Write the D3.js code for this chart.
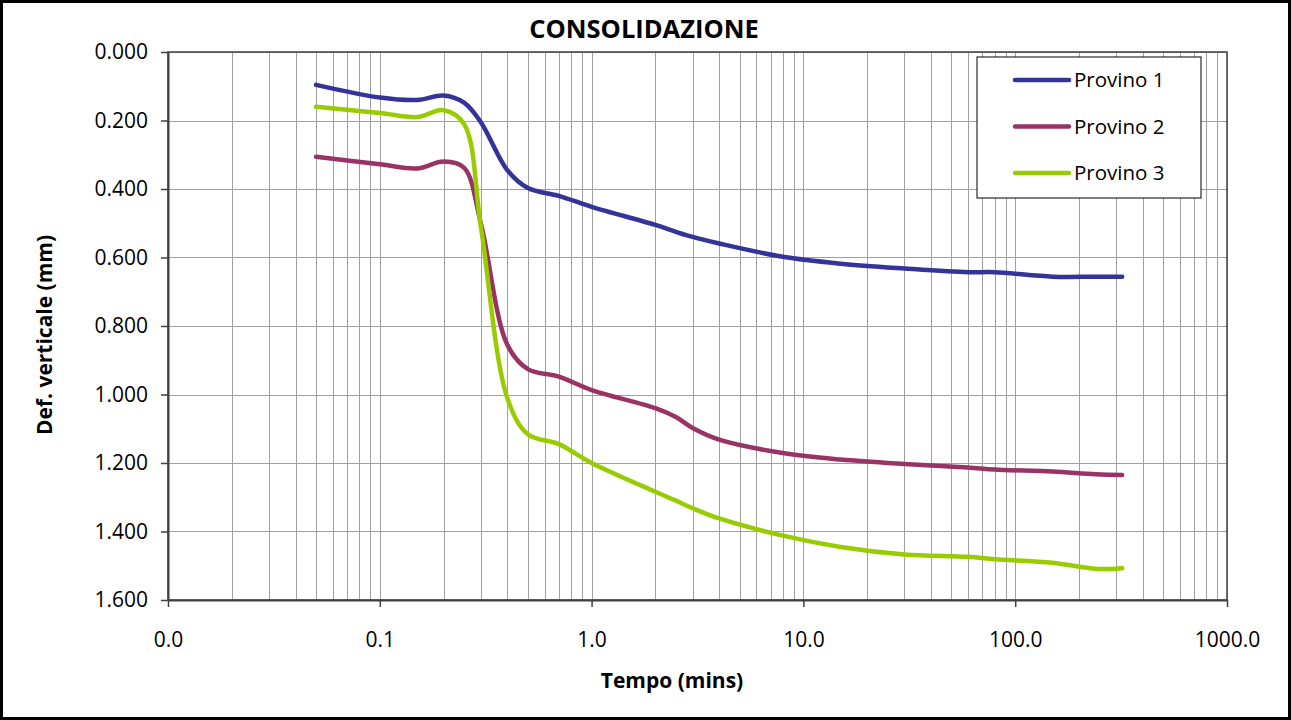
<!DOCTYPE html>
<html>
<head>
<meta charset="utf-8">
<script src="https://cdn.jsdelivr.net/npm/d3@7"></script>
<style>
  body { margin: 0; background: #fff; }
  svg { display: block; font-family: "Open Sans", "Noto Sans", sans-serif; }
</style>
</head>
<body>
<div id="chart"></div>
<script>
// tempo (mins) - same reading times for all three specimens
const tempo = [0.05, 0.1, 0.15, 0.2, 0.25, 0.3, 0.4, 0.5, 0.7, 1, 2, 2.5, 3, 4, 8, 15, 30, 60, 80, 150, 240, 320];

// vertical deformation (mm)
const provino1 = [0.096, 0.133, 0.140, 0.127, 0.148, 0.205, 0.345, 0.397, 0.420, 0.452, 0.505, 0.525, 0.540, 0.559, 0.598, 0.618, 0.632, 0.643, 0.643, 0.656, 0.656, 0.656];
const provino2 = [0.306, 0.328, 0.340, 0.320, 0.338, 0.500, 0.855, 0.926, 0.948, 0.987, 1.040, 1.066, 1.098, 1.132, 1.171, 1.190, 1.203, 1.213, 1.219, 1.225, 1.233, 1.235];
const provino3 = [0.160, 0.178, 0.190, 0.170, 0.210, 0.510, 1.010, 1.116, 1.145, 1.200, 1.284, 1.310, 1.332, 1.362, 1.412, 1.445, 1.467, 1.474, 1.481, 1.491, 1.509, 1.507];

const seriesNames = ['Provino 1', 'Provino 2', 'Provino 3'];
const seriesColors = ['#333399', '#993366', '#99cc00'];

const xTicks = [0.01, 0.1, 1, 10, 100, 1000];
const yTicks = [0, 0.2, 0.4, 0.6, 0.8, 1.0, 1.2, 1.4, 1.6];

const chartTitle = 'CONSOLIDAZIONE';
const xAxisLabel = 'Tempo (mins)';
const yAxisLabel = 'Def. verticale (mm)';

// build series objects from the arrays
const series = [provino1, provino2, provino3].map((vals, i) => ({
    name: seriesNames[i],
    color: seriesColors[i],
    values: vals.map((v, j) => ({ t: tempo[j], d: v }))
}));

const width = 1291;
const height = 720;
const margin = { top: 52, right: 64, bottom: 120, left: 168 };
const boundedWidth = width - margin.left - margin.right;
const boundedHeight = height - margin.top - margin.bottom;

const svg = d3.select('#chart')
    .append('svg')
    .attr('width', width)
    .attr('height', height);

// outer frame
svg.append('rect')
    .attr('x', 1.5).attr('y', 1.5)
    .attr('width', width - 3).attr('height', height - 3)
    .attr('fill', '#fff')
    .attr('stroke', '#000')
    .attr('stroke-width', 3);

const bounds = svg.append('g')
    .attr('transform', `translate(${margin.left},${margin.top})`);

// scales
const xScale = d3.scaleLog()
    .domain([0.01, 1000])
    .range([0, boundedWidth]);

const yScale = d3.scaleLinear()
    .domain([0, 1.6])
    .range([0, boundedHeight]);

// vertical grid: every 1..9 of each decade
const gridX = [];
for (let e = -2; e < 3; e++) {
    for (let m = 1; m <= 9; m++) gridX.push(m * Math.pow(10, e));
}
gridX.push(1000);

bounds.append('g')
    .attr('class', 'grid-x')
    .selectAll('line')
    .data(gridX)
    .join('line')
    .attr('x1', d => Math.round(xScale(d)) + 0.5)
    .attr('x2', d => Math.round(xScale(d)) + 0.5)
    .attr('y1', 0)
    .attr('y2', boundedHeight)
    .attr('stroke', '#a0a0a0')
    .attr('stroke-width', 1);

bounds.append('g')
    .attr('class', 'grid-y')
    .selectAll('line')
    .data(yTicks)
    .join('line')
    .attr('x1', 0)
    .attr('x2', boundedWidth)
    .attr('y1', d => Math.round(yScale(d)) + 0.5)
    .attr('y2', d => Math.round(yScale(d)) + 0.5)
    .attr('stroke', '#a0a0a0')
    .attr('stroke-width', 1);

// plot area border
bounds.append('rect')
    .attr('x', 0).attr('y', 0)
    .attr('width', boundedWidth).attr('height', boundedHeight)
    .attr('fill', 'none')
    .attr('stroke', '#404040')
    .attr('stroke-width', 1.5);

// axes
const yAxis = d3.axisLeft(yScale)
    .tickValues(yTicks)
    .tickFormat(d3.format('.3f'))
    .tickSizeInner(7)
    .tickSizeOuter(0)
    .tickPadding(13);

const xAxis = d3.axisBottom(xScale)
    .tickValues(xTicks)
    .tickFormat(d3.format('.1f'))
    .tickSizeInner(7)
    .tickSizeOuter(0)
    .tickPadding(25);

const yAxisG = bounds.append('g').attr('class', 'axis y-axis').call(yAxis);
const xAxisG = bounds.append('g')
    .attr('class', 'axis x-axis')
    .attr('transform', `translate(0,${boundedHeight})`)
    .call(xAxis);

[yAxisG, xAxisG].forEach(g => {
    g.select('.domain').attr('stroke', '#404040').attr('stroke-width', 2);
    g.selectAll('.tick line').attr('stroke', '#404040').attr('stroke-width', 1.5);
    g.selectAll('.tick text')
        .attr('fill', '#000')
        .style('font-size', '21px')
        .style('font-family', '"Open Sans", sans-serif');
});

// lines
const line = d3.line()
    .x(d => xScale(d.t))
    .y(d => yScale(d.d))
    .curve(d3.curveCatmullRom.alpha(0.5));

bounds.append('g')
    .attr('class', 'series')
    .selectAll('path')
    .data(series)
    .join('path')
    .attr('d', d => line(d.values))
    .attr('fill', 'none')
    .attr('stroke', d => d.color)
    .attr('stroke-width', 4.5)
    .attr('stroke-linecap', 'round')
    .attr('stroke-linejoin', 'round');

// legend
const legend = svg.append('g')
    .attr('class', 'legend')
    .attr('transform', 'translate(977,57)');

legend.append('rect')
    .attr('width', 224)
    .attr('height', 141)
    .attr('fill', '#fff')
    .attr('stroke', '#000')
    .attr('stroke-width', 1);

const items = legend.selectAll('.item')
    .data(series)
    .join('g')
    .attr('class', 'item')
    .attr('transform', (d, i) => `translate(0,${23 + i * 46.5})`);

items.append('line')
    .attr('x1', 38).attr('x2', 92)
    .attr('stroke', d => d.color)
    .attr('stroke-width', 4.5)
    .attr('stroke-linecap', 'round');

items.append('text')
    .attr('x', 97)
    .attr('dy', '0.35em')
    .style('font-size', '20.5px')
    .attr('fill', '#000')
    .text(d => d.name);

// titles
svg.append('text')
    .attr('x', 644)
    .attr('y', 38)
    .attr('text-anchor', 'middle')
    .style('font-size', '25.5px')
    .style('font-weight', 'bold')
    .text(chartTitle);

svg.append('text')
    .attr('x', 672)
    .attr('y', 688)
    .attr('text-anchor', 'middle')
    .style('font-size', '21px')
    .style('font-weight', 'bold')
    .text(xAxisLabel);

svg.append('text')
    .attr('transform', 'translate(52,335) rotate(-90)')
    .attr('text-anchor', 'middle')
    .style('font-size', '21px')
    .style('font-weight', 'bold')
    .text(yAxisLabel);
</script>
</body>
</html>
